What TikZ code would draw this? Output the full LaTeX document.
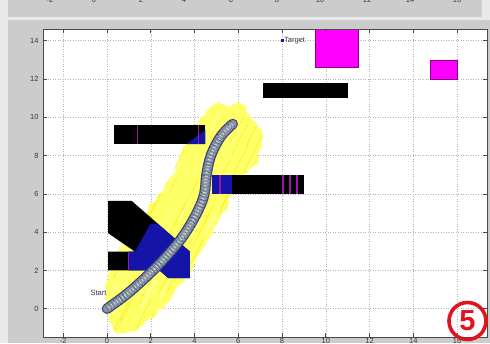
\documentclass[tikz,border=0pt]{standalone}
\usepackage{fontspec}
\setmainfont{Liberation Sans}
\usetikzlibrary{decorations.pathmorphing}
\definecolor{figgray}{HTML}{CCCCCC}
\definecolor{pale}{HTML}{E9E9E9}
\definecolor{gridc}{HTML}{B4B4B4}
\definecolor{axisc}{HTML}{4A4A4A}
\definecolor{labc}{HTML}{3A3A3A}
\definecolor{swathc}{HTML}{FFFF66}
\definecolor{swathA}{HTML}{F4F430}
\definecolor{swathB}{HTML}{FFFFC0}
\definecolor{obsblue}{HTML}{1414A8}
\definecolor{magline}{HTML}{9A1AA8}
\definecolor{magfill}{HTML}{FF00FF}
\definecolor{magedge}{HTML}{8B008B}
\definecolor{pathdark}{HTML}{3C4270}
\definecolor{pathmid}{HTML}{8E92A4}
\definecolor{specA}{HTML}{5FA060}
\definecolor{specB}{HTML}{C070B0}
\definecolor{specC}{HTML}{4050A0}
\definecolor{specD}{HTML}{D0D8DC}
\definecolor{specE}{HTML}{70B8B8}
\definecolor{dotblue}{HTML}{1A1A9A}
\definecolor{redfive}{HTML}{E0141E}
\tikzset{
  gridline/.style={draw=gridc, line width=0.5pt, dash pattern=on 1pt off 1.5pt},
  axisline/.style={draw=axisc, line width=0.7pt},
  ticklab/.style={font=\fontsize{7.5}{8}\selectfont, text=labc, inner sep=0pt},
  obstacle/.style={fill=black},
  overlap/.style={fill=obsblue},
  stripe/.style={draw=magline, line width=1.4pt},
  goalbox/.style={fill=magfill, draw=magedge, line width=0.6pt},
  route/.style={line cap=round, line join=round},
}
\newcommand\routeplot{plot[smooth, tension=0.6] coordinates {(0,0) (1.0,0.85) (2.1,2.0) (3.0,3.1) (3.6,4.0) (4.15,5.1) (4.45,6.0) (4.55,7.0) (4.75,8.0) (5.2,9.0) (5.75,9.65)}}
\newcommand\swathpts{(5.17,10.85) -- (4.7,10.5) -- (4.25,10.0) -- (3.9,9.2) -- (3.64,8.64) -- (3.34,8.1) -- (3.0,7.0) -- (2.27,5.85) -- (1.8,5.0) -- (1.0,3.8) -- (0.3,2.5) -- (0.0,1.8) -- (-0.05,0.5) -- (0.1,-0.6) -- (0.45,-1.3) -- (1.0,-1.2) -- (1.65,-0.9) -- (2.74,0.3) -- (3.34,1.3) -- (3.9,2.0) -- (4.3,3.0) -- (4.85,4.0) -- (5.3,5.0) -- (5.76,6.0) -- (6.2,7.0) -- (6.9,7.5) -- (7.0,8.3) -- (7.1,9.3) -- (6.6,9.9) -- (6.4,10.4) -- (6.0,10.8) -- (5.6,10.5) -- cycle}
\begin{document}
\begin{tikzpicture}[x=1pt,y=1pt]
\useasboundingbox (0,0) rectangle (490,343);
\fill[pale] (0,0) rectangle (490,343);
\fill[figgray] (8,326) rectangle (482,343);
\fill[figgray] (8,0) rectangle (490,323);
% cut-off labels of the figure above
\foreach \tv/\px in {-2/50,0/94,2/141,4/184,6/231,8/277,10/320,12/367,14/410,16/457}
  \node[ticklab, anchor=base] (toplab\px) at (\px,340.6) {\tv};

\begin{scope}[shift={(107pt,34.3pt)}, x=21.875pt, y=19.14pt]
\fill[white] (-2.926,-1.479) rectangle (17.37,14.61);
\begin{scope}
\clip (-2.926,-1.479) rectangle (17.37,14.61);
% grid
\foreach \gx in {-2,0,...,16} \draw[gridline] (\gx,-1.479) -- (\gx,14.61);
\foreach \gy in {0,2,...,14} \draw[gridline] (-2.926,\gy) -- (17.37,\gy);
% explored swath
\pgfmathsetseed{7}
\fill[swathc, decorate, decoration={random steps, segment length=4pt, amplitude=2pt}] \swathpts;
\begin{scope}
\clip \swathpts;
\foreach \k in {1,...,110}{
  \pgfmathsetmacro{\ux}{-1+8.5*rnd}
  \pgfmathsetmacro{\uy}{-2.5+13.5*rnd}
  \pgfmathsetmacro{\ln}{0.6+1.4*rnd}
  \draw[swathA, line width=0.7pt] (\ux,\uy) -- ++(0.45*\ln,\ln);
}
\foreach \k in {1,...,90}{
  \pgfmathsetmacro{\ux}{-1+8.5*rnd}
  \pgfmathsetmacro{\uy}{-2.5+13.5*rnd}
  \pgfmathsetmacro{\ln}{0.5+1.2*rnd}
  \draw[swathB, line width=0.6pt] (\ux,\uy) -- ++(0.45*\ln,\ln);
}
\end{scope}
% obstacles
\fill[obstacle] (0.3,8.6) rectangle (4.5,9.6);
\fill[overlap] (3.64,8.6) -- (4.5,8.6) -- (4.5,9.35) -- cycle;
\draw[stripe] (1.4,8.6) -- (1.4,9.6);
\draw[stripe] (4.18,8.6) -- (4.18,9.6);
\fill[obstacle] (7.15,11.0) rectangle (11.0,11.8);
\fill[obstacle] (4.8,6.0) rectangle (9.0,7.0);
\fill[overlap] (4.8,6.0) rectangle (5.7,7.0);
\draw[stripe] (5.17,6.0) -- (5.17,7.0);
\draw[stripe, line width=1.8pt] (8.03,6.0) -- (8.03,7.0);
\draw[stripe, line width=1.8pt] (8.37,6.0) -- (8.37,7.0);
\draw[stripe, line width=1.8pt] (8.7,6.0) -- (8.7,7.0);
\fill[obstacle] (0.05,5.63) -- (1.13,5.63) -- (3.79,2.98) -- (3.79,1.6) -- (2.8,1.6) -- (2.4,2.0) -- (0.05,2.0) -- (0.05,2.98) -- (1.28,2.98) -- (0.05,3.95) -- cycle;
\fill[overlap] (0.97,2.0) -- (0.97,2.98) -- (1.28,2.98) -- (1.97,4.4) -- (2.3,4.46) -- (3.79,2.98) -- (3.79,1.6) -- (2.8,1.6) -- (2.4,2.0) -- cycle;
\draw[stripe] (0.97,2.0) -- (0.97,2.98);
% goal regions
\draw[goalbox] (9.5,12.6) rectangle (11.5,15.2);
\draw[goalbox] (14.8,12.0) rectangle (16.0,13.0);
% travelled route
\draw[route, line width=10.5pt, pathdark] \routeplot;
\draw[route, line width=8pt, pathmid] \routeplot;
\draw[line width=8pt, dash pattern=on 0.6pt off 2.9pt, dash phase=0.4pt, specC] \routeplot;
\draw[line width=7pt, dash pattern=on 0.7pt off 3.3pt, specA] \routeplot;
\draw[line width=5pt, dash pattern=on 0.9pt off 4.1pt, dash phase=1.7pt, specB] \routeplot;
\draw[line width=6pt, dash pattern=on 0.5pt off 3.7pt, dash phase=2.3pt, specE] \routeplot;
\draw[line width=3pt, dash pattern=on 1pt off 2.3pt, dash phase=1.1pt, specD] \routeplot;
% labels
\node[fill=dotblue, inner sep=0pt, minimum size=3pt] (target) at (8,14) {};
\node[ticklab, anchor=west, xshift=0.3pt] (targetlab) at (target.east) {Target};
\node[ticklab] (startlab) at (-0.39,0.82) {Start};
\end{scope}
% axes frame and ticks
\draw[axisline] (-2.926,-1.479) rectangle (17.37,14.61);
\foreach \gx in {-2,0,...,16}{
  \draw[axisline] (\gx,-1.479) -- ++(0,0.209);
  \draw[axisline] (\gx,14.61) -- ++(0,-0.209);
  \node[ticklab, anchor=north] (xlab\gx) at (\gx,-1.56) {\gx};
}
\foreach \gy in {0,2,...,14}{
  \draw[axisline] (-2.926,\gy) -- ++(0.183,0);
  \draw[axisline] (17.37,\gy) -- ++(-0.183,0);
  \node[ticklab, anchor=east] (ylab\gy) at (-3.12,\gy) {\gy};
}
\end{scope}
% badge
\node[circle, draw=redfive, line width=3.6pt, minimum size=37pt, inner sep=0pt, text=redfive, font=\bfseries\fontsize{29}{29}\selectfont] (badge) at (467.5,22) {5};
\end{tikzpicture}
\end{document}
